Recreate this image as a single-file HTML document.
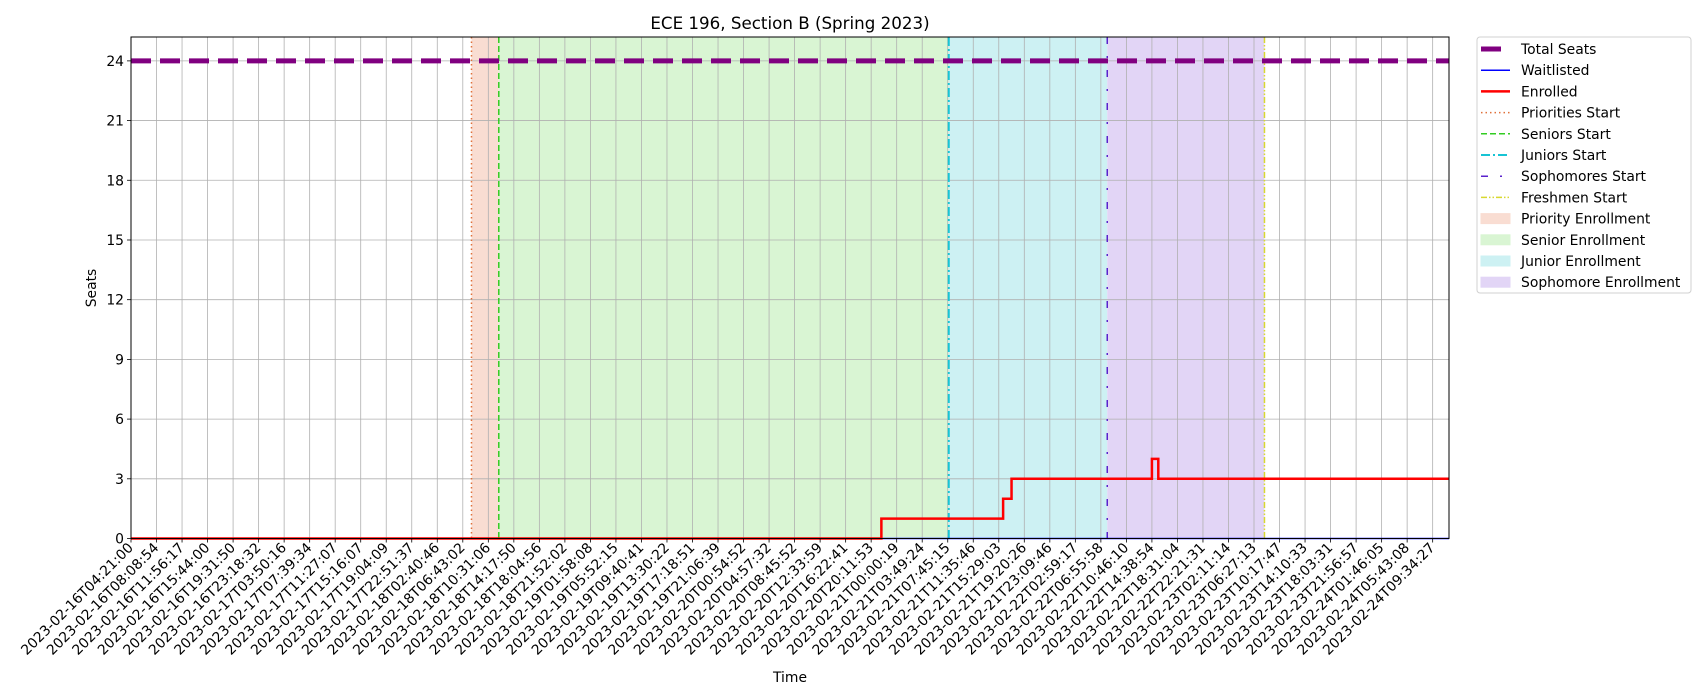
<!DOCTYPE html>
<html><head><meta charset="utf-8"><style>
body{margin:0;background:#fff;}
svg{display:block;font-family:"DejaVu Sans","Liberation Sans",sans-serif;}
</style></head><body>
<svg id="chart" width="1700" height="700" xmlns="http://www.w3.org/2000/svg"></svg>
<script>
const tickLabels=["2023-02-16T04:21:00","2023-02-16T08:08:54","2023-02-16T11:56:17","2023-02-16T15:44:00","2023-02-16T19:31:50","2023-02-16T23:18:32","2023-02-17T03:50:16","2023-02-17T07:39:34","2023-02-17T11:27:07","2023-02-17T15:16:07","2023-02-17T19:04:09","2023-02-17T22:51:37","2023-02-18T02:40:46","2023-02-18T06:43:02","2023-02-18T10:31:06","2023-02-18T14:17:50","2023-02-18T18:04:56","2023-02-18T21:52:02","2023-02-19T01:58:08","2023-02-19T05:52:15","2023-02-19T09:40:41","2023-02-19T13:30:22","2023-02-19T17:18:51","2023-02-19T21:06:39","2023-02-20T00:54:52","2023-02-20T04:57:32","2023-02-20T08:45:52","2023-02-20T12:33:59","2023-02-20T16:22:41","2023-02-20T20:11:53","2023-02-21T00:00:19","2023-02-21T03:49:24","2023-02-21T07:45:15","2023-02-21T11:35:46","2023-02-21T15:29:03","2023-02-21T19:20:26","2023-02-21T23:09:46","2023-02-22T02:59:17","2023-02-22T06:55:58","2023-02-22T10:46:10","2023-02-22T14:38:54","2023-02-22T18:31:04","2023-02-22T22:21:31","2023-02-23T02:11:14","2023-02-23T06:27:13","2023-02-23T10:17:47","2023-02-23T14:10:33","2023-02-23T18:03:31","2023-02-23T21:56:57","2023-02-24T01:46:05","2023-02-24T05:43:08","2023-02-24T09:34:27"];
const yTicks=[0,3,6,9,12,15,18,21,24];
const totalSeats=24;
const enrolledX=[0,29.4,29.4,34.17,34.17,34.5,34.5,40.0,40.0,40.25,40.25,51.64];
const enrolledY=[0,0,1,1,2,2,3,3,4,4,3,3];
const waitlistX=[0,51.64];
const waitlistY=[0,0];
const phaseStarts=[13.34,14.41,32.04,38.25,44.41];
const phaseNames=["Priorities Start","Seniors Start","Juniors Start","Sophomores Start","Freshmen Start"];

const NS="http://www.w3.org/2000/svg";
const svg=document.getElementById('chart');
const L=131,R=1449,T=37,B=538.5,XMAX=51.64,YMAX=25.2;
const sx=v=>L+v*(R-L)/XMAX, sy=v=>B-v*(B-T)/YMAX;
function mk(tag,attrs,parent){const e=document.createElementNS(NS,tag);for(const k in attrs)e.setAttribute(k,attrs[k]);(parent||svg).appendChild(e);return e;}

const lineStyles=[
 {c:"#e0703a",d:"1.5,3",w:1.5},
 {c:"#33cc22",d:"6,3",w:1.5},
 {c:"#17c4d4",d:"9,3,2,3",w:2},
 {c:"#5a22cc",d:"7,12,2,12",w:1.5},
 {c:"#d8d830",d:"6,2,1.5,2,1.5,2",w:1.5}];
const shades=["#f9ddd2","#d9f5d3","#cdf1f3","#e2d5f6"];
const shadeNames=["priority-enrollment-region","senior-enrollment-region","junior-enrollment-region","sophomore-enrollment-region"];

for(let i=0;i<4;i++){
 const r=mk('rect',{x:sx(phaseStarts[i]),y:T,width:sx(phaseStarts[i+1])-sx(phaseStarts[i]),height:B-T,fill:shades[i]});
 
 
}
tickLabels.forEach((t,i)=>{
 const g=mk('line',{x1:sx(i),x2:sx(i),y1:T,y2:B,stroke:"#b0b0b0","stroke-width":0.8});
 
 
});
yTicks.forEach(v=>{
 const g=mk('line',{x1:L,x2:R,y1:sy(v),y2:sy(v),stroke:"#b0b0b0","stroke-width":0.8});
 
 
});
phaseStarts.forEach((p,i)=>{
 const s=lineStyles[i];
 const l=mk('line',{x1:sx(p),x2:sx(p),y1:T,y2:B,stroke:s.c,"stroke-width":s.w,"stroke-dasharray":s.d});
 
 
});
const ts=mk('line',{x1:L,x2:R,y1:sy(totalSeats),y2:sy(totalSeats),stroke:"#800080","stroke-width":5,"stroke-dasharray":"20,9"});


const wl=mk('polyline',{points:waitlistX.map((x,i)=>sx(x)+','+sy(waitlistY[i])).join(' '),fill:"none",stroke:"#0000ff","stroke-width":1.5});


const en=mk('polyline',{points:enrolledX.map((x,i)=>sx(x)+','+sy(enrolledY[i])).join(' '),fill:"none",stroke:"#ff0000","stroke-width":2.5});


const fr=mk('rect',{x:L,y:T,width:R-L,height:B-T,fill:"none",stroke:"#000","stroke-width":1});


tickLabels.forEach((t,i)=>{
 const x=sx(i);
 mk('line',{x1:x,x2:x,y1:B,y2:B+4,stroke:"#000","stroke-width":0.8});
 const tx=mk('text',{x:x+3,y:B+10,"font-size":13.9,"text-anchor":"end",transform:`rotate(-45 ${x+3} ${B+10})`});
 tx.textContent=t;
 
 
});
yTicks.forEach(v=>{
 const y=sy(v);
 mk('line',{x1:L-4,x2:L,y1:y,y2:y,stroke:"#000","stroke-width":0.8});
 const tx=mk('text',{x:L-7,y:y+5,"font-size":13.9,"text-anchor":"end"});
 tx.textContent=v;
 
 
});
let e=mk('text',{x:(L+R)/2,y:29,"font-size":16.7,"text-anchor":"middle"});e.textContent="ECE 196, Section B (Spring 2023)";


e=mk('text',{x:(L+R)/2,y:682,"font-size":13.9,"text-anchor":"middle"});e.textContent="Time";


e=mk('text',{x:96,y:288,"font-size":13.9,"text-anchor":"middle",transform:"rotate(-90 96 288)"});e.textContent="Seats";


const lg=mk('g',{});


mk('rect',{x:1477,y:37,width:214,height:256,rx:3,fill:"#fff",stroke:"#d0d0d0","stroke-width":1},lg);
const entries=[
 {n:"Total Seats",t:"line",c:"#800080",w:5,d:"20,9"},
 {n:"Waitlisted",t:"line",c:"#0000ff",w:1.5,d:""},
 {n:"Enrolled",t:"line",c:"#ff0000",w:2.5,d:""},
 ...phaseNames.map((n,i)=>({n,t:"line",c:lineStyles[i].c,w:lineStyles[i].w,d:lineStyles[i].d})),
 {n:"Priority Enrollment",t:"box",c:shades[0]},
 {n:"Senior Enrollment",t:"box",c:shades[1]},
 {n:"Junior Enrollment",t:"box",c:shades[2]},
 {n:"Sophomore Enrollment",t:"box",c:shades[3]}];
entries.forEach((en,i)=>{
 const y=49+i*21.2;
 const g=mk('g',{},lg);
 
 
 if(en.t==="line") mk('line',{x1:1481,x2:1510,y1:y,y2:y,stroke:en.c,"stroke-width":en.w,"stroke-dasharray":en.d},g);
 else mk('rect',{x:1481,y:y-5,width:29,height:10,fill:en.c,stroke:en.c},g);
 const t=mk('text',{x:1521,y:y+5,"font-size":13.9},g);t.textContent=en.n;
});
</script>
</body></html>
